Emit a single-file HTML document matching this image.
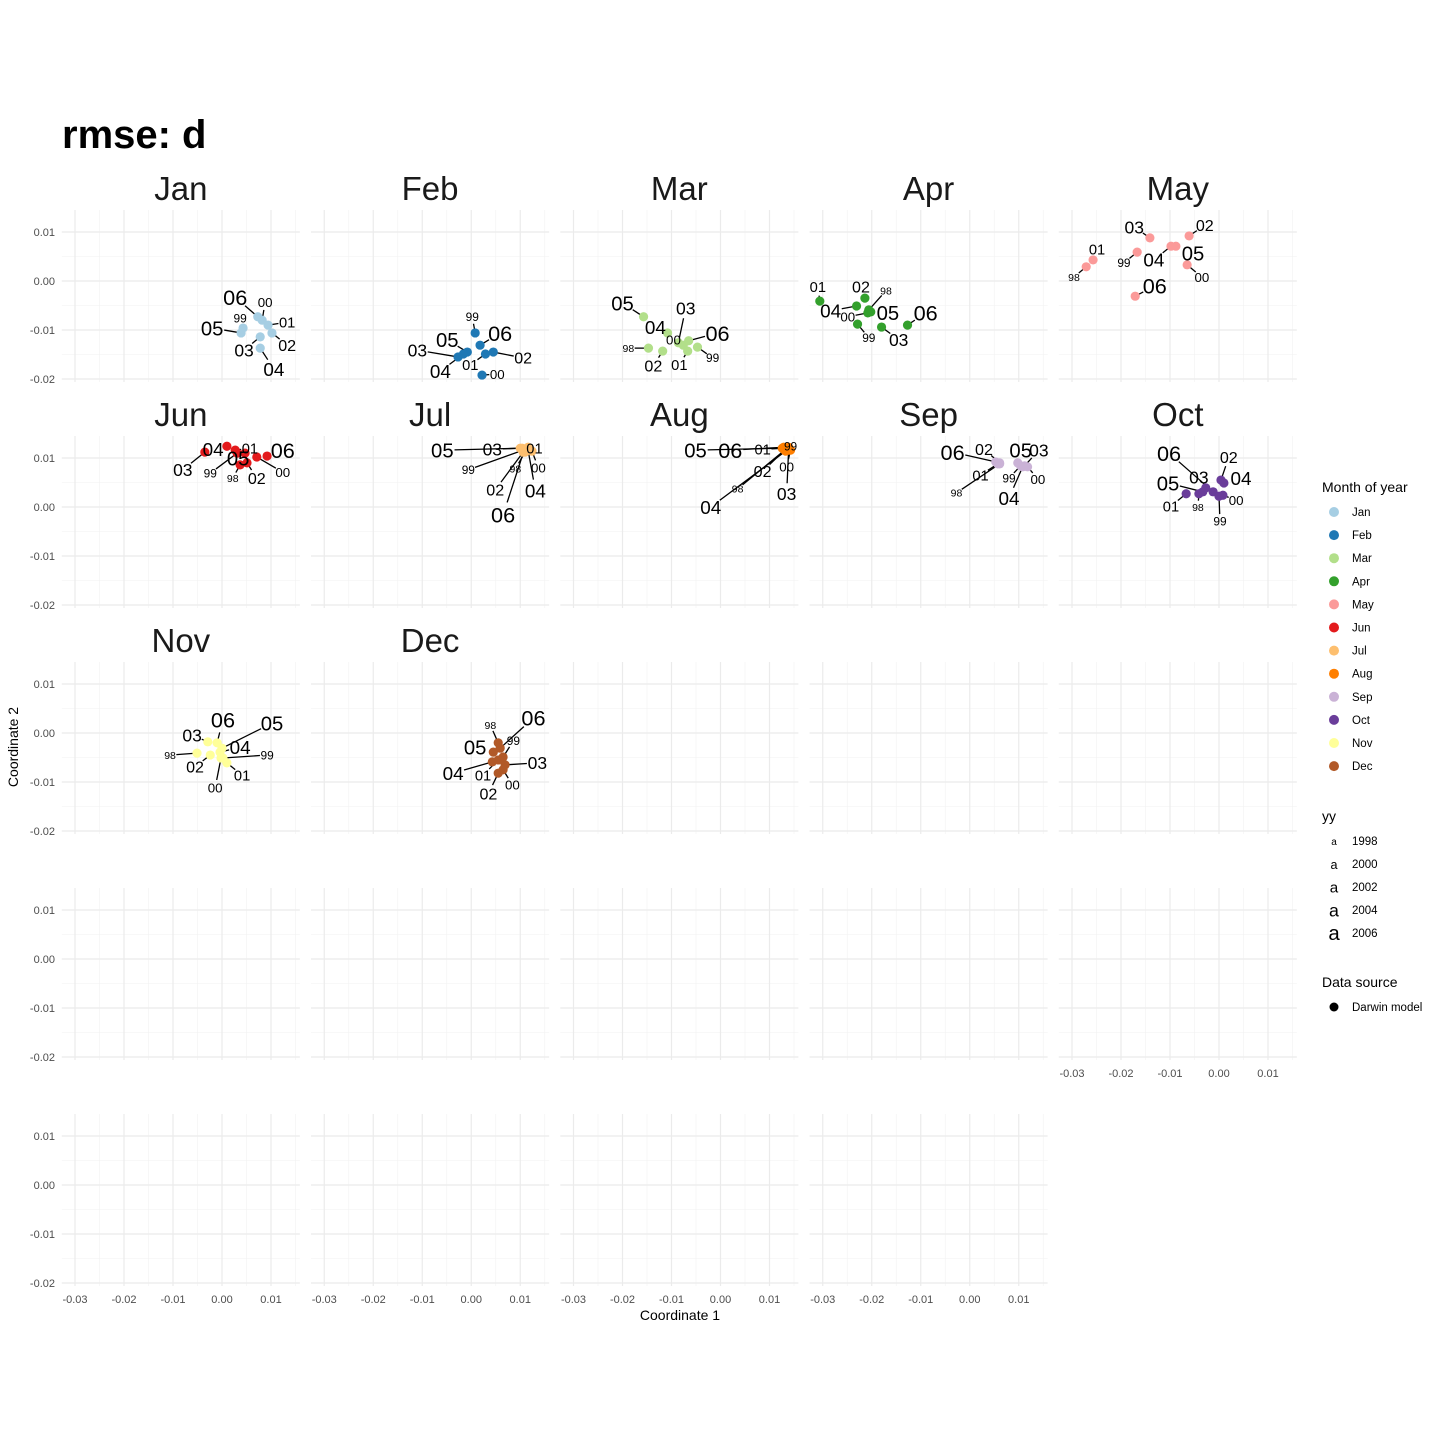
<!DOCTYPE html>
<html><head><meta charset="utf-8"><style>
html,body{margin:0;padding:0;background:#fff;}
svg{display:block;font-family:"Liberation Sans",sans-serif;}
</style></head><body>
<svg id="chart" width="1440" height="1440" viewBox="0 0 1440 1440" xmlns="http://www.w3.org/2000/svg"></svg>
<script>
// values in units of 0.001
const months = ["Jan","Feb","Mar","Apr","May","Jun","Jul","Aug","Sep","Oct","Nov","Dec"];
const monthColors = ["#A6CEE3","#1F78B4","#B2DF8A","#33A02C","#FB9A99","#E31A1C","#FDBF6F","#FF7F00","#CAB2D6","#6A3D9A","#FFFF99","#B15928"];
const yearLabels = [
 ["06","00","01","02","99","05","03","04"],
 ["99","06","02","01","05","03","04","00"],
 ["05","04","03","00","06","99","01","02","98"],
 ["01","02","98","04","00","05","99","03","06"],
 ["03","02","05","04","99","01","98","00","06"],
 ["03","04","01","05","99","98","02","00","06"],
 ["05","03","01","99","98","00","02","06","04"],
 ["99","01","06","05","00","03","02","98","04"],
 ["06","02","05","03","01","99","00","98","04"],
 ["01","98","05","03","06","02","04","00","99"],
 ["98","02","03","06","05","04","99","01","00"],
 ["98","06","99","05","04","01","03","02","00"]
];
const pointX = [
 [7.3,8.2,9.4,10.2,4.3,3.9,7.8,7.8],
 [0.8,1.8,4.5,2.9,-0.8,-2.7,-1.6,2.2],
 [-15.7,-10.8,-8.6,-7.6,-6.5,-4.7,-6.7,-11.8,-14.7],
 [-30.6,-21.4,-20.6,-23.1,-20.8,-20.2,-22.9,-18.0,-12.7],
 [-14.1,-6.1,-8.8,-9.8,-16.7,-25.7,-27.1,-6.5,-17.1],
 [-3.5,1.0,2.7,4.7,3.1,3.7,5.1,7.1,9.2],
 [10.0,10.4,11.6,10.6,11.0,12.4,10.6,10.8,11.6],
 [13.9,13.1,12.9,12.6,14.3,13.9,13.3,13.1,13.3],
 [5.3,6.1,9.8,11.2,5.7,10.4,11.8,6.1,10.8],
 [-6.7,-4.1,-3.3,-2.7,-1.2,0.4,1.0,0.8,0.0],
 [-5.1,-2.4,-2.9,-1.0,0.0,-0.4,0.2,1.0,-0.2],
 [5.5,5.9,6.5,4.5,4.3,5.5,6.9,5.5,6.5]
];
const pointY = [
 [-7.3,-8.0,-9.0,-10.6,-9.6,-10.6,-11.4,-13.7],
 [-10.6,-13.1,-14.5,-14.9,-14.5,-15.5,-14.9,-19.2],
 [-7.3,-10.6,-12.6,-13.1,-12.2,-13.5,-14.3,-14.3,-13.7],
 [-4.1,-3.5,-5.9,-5.1,-6.5,-6.3,-8.8,-9.4,-9.0],
 [8.8,9.2,7.1,7.1,5.9,4.3,2.9,3.3,-3.1],
 [11.2,12.4,11.6,11.0,11.0,8.6,9.0,10.2,10.4],
 [12.0,12.0,12.2,11.6,11.2,11.4,11.2,11.6,11.6],
 [12.2,12.0,12.2,12.0,11.6,11.6,11.8,11.6,11.4],
 [9.2,9.0,9.0,8.4,8.8,8.4,8.2,8.8,8.2],
 [2.7,2.7,3.1,3.9,3.1,5.5,4.9,2.4,2.2],
 [-4.1,-4.5,-1.8,-2.0,-3.1,-3.9,-5.1,-6.1,-5.1],
 [-2.0,-3.1,-4.9,-3.9,-5.9,-5.5,-6.5,-8.2,-7.5]
];
const labelX = [
 [2.7,8.8,13.3,13.3,3.7,-2.0,4.5,10.6],
 [0.2,5.9,10.6,-0.2,-4.9,-11.0,-6.3,5.3],
 [-20.0,-13.3,-7.1,-9.6,-0.6,-1.6,-8.4,-13.7,-18.8],
 [-31.0,-22.2,-17.1,-28.4,-24.9,-16.7,-20.6,-14.5,-9.0],
 [-17.3,-2.9,-5.3,-13.3,-19.4,-24.9,-29.6,-3.5,-13.1],
 [-8.0,-1.8,5.7,3.3,-2.4,2.2,7.1,12.4,12.4],
 [-5.9,4.3,12.9,-0.6,9.0,13.7,4.9,6.5,13.1],
 [14.3,8.6,2.0,-5.1,13.5,13.5,8.6,3.5,-2.0],
 [-3.5,2.9,10.4,14.1,2.2,8.0,13.9,-2.7,8.0],
 [-9.8,-4.3,-10.4,-4.1,-10.2,2.0,4.5,3.5,0.2],
 [-10.6,-5.5,-6.1,0.2,10.2,3.7,9.2,4.1,-1.4],
 [3.9,12.7,8.6,0.8,-3.7,2.4,13.5,3.5,8.4]
];
const labelY = [
 [-3.3,-4.3,-8.4,-13.1,-7.6,-9.6,-14.1,-18.0],
 [-7.3,-10.6,-15.7,-17.1,-12.0,-14.1,-18.4,-19.0],
 [-4.5,-9.4,-5.5,-12.0,-10.6,-15.7,-17.1,-17.3,-13.7],
 [-1.2,-1.2,-2.0,-6.1,-7.3,-6.5,-11.6,-12.0,-6.5],
 [11.0,11.4,5.7,4.3,3.7,6.5,0.8,0.8,-1.0],
 [7.6,11.8,12.0,10.0,6.9,5.9,5.9,7.1,11.6],
 [11.6,11.8,12.0,7.6,7.8,8.0,3.5,-1.6,3.3],
 [12.4,11.8,11.6,11.6,8.2,2.7,7.3,3.7,0.0],
 [11.2,11.8,11.6,11.6,6.5,5.9,5.7,2.9,1.8],
 [0.2,0.0,4.9,6.1,11.0,10.2,5.9,1.4,-2.9],
 [-4.5,-6.9,-0.4,2.7,2.0,-2.9,-4.5,-8.6,-11.2],
 [1.6,3.1,-1.6,-2.9,-8.2,-8.6,-6.1,-12.4,-10.6]
];
const yearKeys = ["98","99","00","01","02","03","04","05","06"];
const xTicks = [-0.03,-0.02,-0.01,0.00,0.01];
const xTickLabels = ["-0.03","-0.02","-0.01","0.00","0.01"];
const yTicks = [0.01,0.00,-0.01,-0.02];
const yTickLabels = ["0.01","0.00","-0.01","-0.02"];
const legendYears = ["1998","2000","2002","2004","2006"];

const NS="http://www.w3.org/2000/svg";
const svg=document.getElementById("chart");
function mk(tag,attrs,parent,text){const e=document.createElementNS(NS,tag);for(const k in attrs)e.setAttribute(k,attrs[k]);if(text!==undefined)e.textContent=text;(parent||svg).appendChild(e);return e;}
const PX=4900, X0=222, Y0=281, DX=249.25, DY=226;
const xMin=-0.0327,xMax=0.0159,yMin=-0.0206,yMax=0.0145;
function xs(c,v){return X0+c*DX+v*PX;}
function ys(r,v){return Y0+r*DY-v*PX;}
function fsize(y){return 10.5+yearKeys.indexOf(y)*1.4;}

let t=mk("text",{x:62,y:148,"font-size":40,"font-weight":"bold",fill:"#000"},svg,"rmse: d");



for(let r=0;r<5;r++){for(let c=0;c<5;c++){
  if(r===4&&c===4)continue;
  const g=mk("g",{});
  
  
  const L=xs(c,xMin),R=xs(c,xMax),T=ys(r,yMax),B=ys(r,yMin);
  for(let v=-0.025;v<0.016;v+=0.01){const x=xs(c,v);mk("line",{x1:x,x2:x,y1:T,y2:B,stroke:"#f2f2f2","stroke-width":0.6},g);}
  for(let v=-0.015;v<0.012;v+=0.01){const y=ys(r,v);mk("line",{x1:L,x2:R,y1:y,y2:y,stroke:"#f2f2f2","stroke-width":0.6},g);}
  xTicks.forEach(v=>{const x=xs(c,v);mk("line",{x1:x,x2:x,y1:T,y2:B,stroke:"#ebebeb","stroke-width":1.2},g);});
  yTicks.forEach(v=>{const y=ys(r,v);mk("line",{x1:L,x2:R,y1:y,y2:y,stroke:"#ebebeb","stroke-width":1.2},g);});
  if(c===0){yTicks.forEach((v,i)=>{const e=mk("text",{x:55,y:ys(r,v)+4,"font-size":11,fill:"#4d4d4d","text-anchor":"end"},g,yTickLabels[i]);
    
    });}
  if(r===4||(r===3&&c===4)){xTicks.forEach((v,i)=>{const e=mk("text",{x:xs(c,v),y:B+17,"font-size":11,fill:"#4d4d4d","text-anchor":"middle"},g,xTickLabels[i]);
    
    });}
  const m=r*5+c;
  if(m<12){
    const st=mk("text",{x:(L+R)/2,y:T-10,"font-size":33,fill:"#1a1a1a","text-anchor":"middle"},g,months[m]);
    
    
    const px=pointX[m],py=pointY[m],lx=labelX[m],ly=labelY[m],yl=yearLabels[m];
    // segments
    for(let i=0;i<px.length;i++){
      const ax=xs(c,px[i]/1000),ay=ys(r,py[i]/1000),bx=xs(c,lx[i]/1000),by=ys(r,ly[i]/1000);
      const d=Math.hypot(bx-ax,by-ay),fs=fsize(yl[i]);
      if(d>fs*0.95){const k=(d-fs*0.6)/d;
        const s=mk("line",{x1:ax,y1:ay,x2:ax+(bx-ax)*k,y2:ay+(by-ay)*k,stroke:"#000","stroke-width":1.3},g);
        
        }
    }
    for(let i=0;i<px.length;i++){
      const p=mk("circle",{cx:xs(c,px[i]/1000),cy:ys(r,py[i]/1000),r:4.6,fill:monthColors[m]},g);
      
      
    }
    for(let i=0;i<px.length;i++){
      const fs=fsize(yl[i]);
      const e=mk("text",{x:xs(c,lx[i]/1000),y:ys(r,ly[i]/1000)+fs*0.36,"font-size":fs,fill:"#000","text-anchor":"middle"},g,yl[i]);
      
      
    }
  }
}}
t=mk("text",{x:680,y:1320,"font-size":14,fill:"#000","text-anchor":"middle"},svg,"Coordinate 1");


t=mk("text",{x:0,y:0,"font-size":14,fill:"#000","text-anchor":"middle",transform:"translate(18,747) rotate(-90)"},svg,"Coordinate 2");



// legends
const lg=mk("g",{});


mk("text",{x:1322,y:492,"font-size":14,fill:"#000"},lg,"Month of year");
months.forEach((mn,i)=>{const y=512+i*23.1;
  const e=mk("g",{},lg);
  
  
  mk("circle",{cx:1334,cy:y,r:5,fill:monthColors[i]},e);
  mk("text",{x:1352,y:y+4,"font-size":11.5,fill:"#000"},e,mn);});
mk("text",{x:1322,y:821,"font-size":14,fill:"#000"},lg,"yy");
legendYears.forEach((yv,i)=>{const y=841+i*23;
  const e=mk("g",{},lg);
  
  
  mk("text",{x:1334,y:y+4+i*0.8,"font-size":10+i*2.6,fill:"#000","text-anchor":"middle"},e,"a");
  mk("text",{x:1352,y:y+4,"font-size":11.5,fill:"#000"},e,yv);});
mk("text",{x:1322,y:987,"font-size":14,fill:"#000"},lg,"Data source");
const ds=mk("g",{},lg);


mk("circle",{cx:1334,cy:1007,r:4.5,fill:"#000"},ds);
mk("text",{x:1352,y:1011,"font-size":11.5,fill:"#000"},ds,"Darwin model");
</script>
</body></html>
